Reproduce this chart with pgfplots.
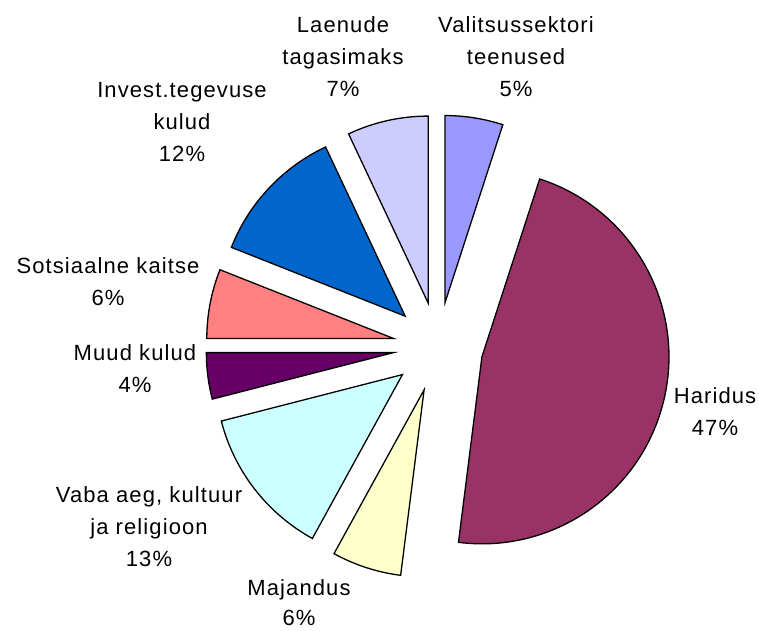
\documentclass[border=0pt]{standalone}
\usepackage{pgfplots}
\pgfplotsset{compat=1.18}
\usepackage{fontspec}
\setmainfont{Liberation Sans}[LetterSpace=5]
\definecolor{cValits}{HTML}{9999FF}
\definecolor{cHaridus}{HTML}{993366}
\definecolor{cMajandus}{HTML}{FFFFCC}
\definecolor{cVaba}{HTML}{CCFFFF}
\definecolor{cMuud}{HTML}{660066}
\definecolor{cSots}{HTML}{FF8080}
\definecolor{cInvest}{HTML}{0066CC}
\definecolor{cLaenude}{HTML}{CCCCFF}
\def\R{187}\def\D{45}\def\cx{438}\def\cy{283}
% #1 cumulative start (%), #2 share (%), #3 colour
\newcommand\slice[3]{%
  \pgfmathsetmacro\sa{90-3.6*#1}%
  \pgfmathsetmacro\ea{90-3.6*(#1+#2)}%
  \pgfmathsetmacro\ma{(\sa+\ea)/2}%
  \pgfmathsetmacro\px{\cx+\D*cos(\ma)}%
  \pgfmathsetmacro\py{\cy+\D*sin(\ma)}%
  \edef\tmp{\noexpand\filldraw[fill=#3,draw=black,line width=1.3pt,line join=miter] (axis cs:\px,\py) -- ++(\sa:\R) arc[start angle=\sa,end angle=\ea,radius=\R] -- cycle;}%
  \tmp}
\begin{document}
\begin{tikzpicture}
\begin{axis}[x=1pt,y=1pt,xmin=0,xmax=759,ymin=0,ymax=630,hide axis,clip=false,scale only axis]
\path (axis cs:0,0) rectangle (axis cs:759,630);
\slice{0}{5}{cValits}
\slice{5}{47}{cHaridus}
\slice{52}{6}{cMajandus}
\slice{58}{13}{cVaba}
\slice{71}{4}{cMuud}
\slice{75}{6}{cSots}
\slice{81}{12}{cInvest}
\slice{93}{7}{cLaenude}
\tikzset{lbl/.style={anchor=base,inner sep=0pt,font=\fontsize{22}{32}\selectfont}}
\node[lbl] at (axis cs:343,597) {Laenude};
\node[lbl] at (axis cs:343,565) {tagasimaks};
\node[lbl] at (axis cs:343,533) {7\%};
\node[lbl] at (axis cs:516,597) {Valitsussektori};
\node[lbl] at (axis cs:516,565) {teenused};
\node[lbl] at (axis cs:516,533) {5\%};
\node[lbl] at (axis cs:182,532) {Invest.tegevuse};
\node[lbl] at (axis cs:182,500) {kulud};
\node[lbl] at (axis cs:182,468) {12\%};
\node[lbl] at (axis cs:108,357) {Sotsiaalne kaitse};
\node[lbl] at (axis cs:108,325) {6\%};
\node[lbl] at (axis cs:135,270) {Muud kulud};
\node[lbl] at (axis cs:135,238) {4\%};
\node[lbl] at (axis cs:149,128) {Vaba aeg, kultuur};
\node[lbl] at (axis cs:149,96) {ja religioon};
\node[lbl] at (axis cs:149,64) {13\%};
\node[lbl] at (axis cs:299,35) {Majandus};
\node[lbl] at (axis cs:299,5) {6\%};
\node[lbl] at (axis cs:715,227) {Haridus};
\node[lbl] at (axis cs:715,195) {47\%};
\end{axis}
\end{tikzpicture}
\end{document}
